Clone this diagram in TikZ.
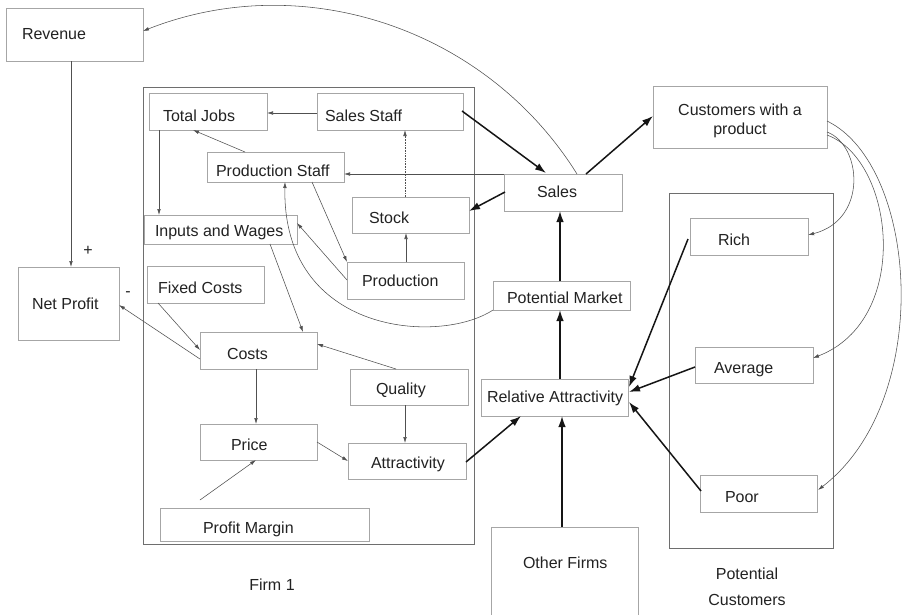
\documentclass[tikz,border=0pt]{standalone}
\usepackage{fontspec}
\setmainfont{Liberation Sans}
\usetikzlibrary{arrows.meta,calc}
\definecolor{boxc}{HTML}{A6A6A6}
\definecolor{contc}{HTML}{6E6E6E}
\definecolor{txtc}{HTML}{222222}
\definecolor{thinc}{HTML}{505050}
\definecolor{boldc}{HTML}{151515}
\newcommand\fsz{\fontsize{16pt}{19pt}\selectfont}
\newcommand\lbx[3]{\makebox[#2pt][l]{\hspace*{#1pt}#3}}
\begin{document}
\begin{tikzpicture}[x=1pt,y=-1pt,
 bxbase/.style={draw=boxc, line width=0.8pt, anchor=north west, inner sep=0pt, outer sep=0pt, font=\fsz, text=txtc},
 bx/.style={bxbase, text height=12pt, text depth=3.5pt},
 cont/.style={draw=contc, line width=0.9pt, anchor=north west, inner sep=0pt, outer sep=0pt},
 lbl/.style={font=\fsz, text=txtc, inner sep=0pt},
 thin/.style={draw=thinc, line width=0.55pt, -{Latex[length=6pt,width=3.6pt]}},
 bold/.style={draw=boldc, line width=1.5pt, -{Latex[length=11pt,width=7.5pt]}},
]
\useasboundingbox (0,0) rectangle (902,614);
\clip (0,0) rectangle (902,614);
\fill[white] (0,0) rectangle (902,614);

% containers
\node[cont, minimum width=331pt, minimum height=457pt] (firm) at (143,87) {};
\node[cont, minimum width=164pt, minimum height=355pt] (pc) at (669,193) {};

% boxes
\node[bx, minimum width=137pt, minimum height=53pt, text height=13pt] (rev) at (6,8) {\lbx{16}{137}{Revenue}};
\node[bx, minimum width=118pt, minimum height=37pt, text height=24pt] (tj) at (149,93) {\lbx{14}{118}{Total Jobs}};
\node[bx, minimum width=146pt, minimum height=37pt, text height=24pt] (ss) at (317,93) {\lbx{8}{146}{Sales Staff}};
\node[bx, minimum width=137pt, minimum height=30pt, text height=23pt] (ps) at (207,152) {\lbx{9}{137}{Production Staff}};
\node[bx, minimum width=117pt, minimum height=36pt, text height=21pt] (stock) at (352,197) {\lbx{17}{117}{Stock}};
\node[bx, minimum width=117pt, minimum height=37pt, text height=16pt] (prod) at (347,262) {\lbx{15}{117}{Production}};
\node[bx, minimum width=153pt, minimum height=29pt, text height=18pt] (iw) at (144,215) {\lbx{11}{153}{Inputs and Wages}};
\node[bx, minimum width=117pt, minimum height=37pt, text height=22pt] (fc) at (147,266) {\lbx{11}{117}{Fixed Costs}};
\node[bx, minimum width=101pt, minimum height=73pt, text height=15pt] (np) at (18,267) {\lbx{14}{101}{Net Profit}};
\node[bx, minimum width=117pt, minimum height=37pt, text height=22pt] (costs) at (200,332) {\lbx{27}{117}{Costs}};
\node[bx, minimum width=118pt, minimum height=36pt, text height=18pt] (qual) at (350,369) {\lbx{26}{118}{Quality}};
\node[bx, minimum width=117pt, minimum height=36pt, text height=21pt] (price) at (200,424) {\lbx{31}{117}{Price}};
\node[bx, minimum width=118pt, minimum height=36pt, text height=19pt] (attr) at (348,443) {\lbx{23}{118}{Attractivity}};
\node[bx, minimum width=209pt, minimum height=33pt, text height=21pt] (pm) at (160,508) {\lbx{43}{209}{Profit Margin}};
\node[bx, minimum width=118pt, minimum height=37pt, text height=14pt] (sales) at (504,174) {\lbx{33}{118}{Sales}};
\node[bx, minimum width=137pt, minimum height=29pt, text height=20pt] (pmkt) at (493,281) {\lbx{14}{137}{Potential Market}};
\node[bx, minimum width=147pt, minimum height=37pt, text height=14pt] (ra) at (481,379) {\lbx{6}{147}{Relative Attractivity}};
\node[bx, minimum width=147pt, minimum height=113pt, text depth=41.5pt] (of) at (491,527) {\lbx{32}{147}{Other Firms}};
\node[bxbase, minimum width=174pt, minimum height=62pt, align=center] (cust) at (653,86) {\rule{0pt}{20pt}Customers with a\\product};
\node[bx, minimum width=118pt, minimum height=37pt, text height=22pt] (rich) at (690,218) {\lbx{28}{118}{Rich}};
\node[bx, minimum width=118pt, minimum height=36pt, text height=21pt] (avg) at (695,347) {\lbx{19}{118}{Average}};
\node[bx, minimum width=117pt, minimum height=37pt, text height=22pt] (poor) at (700,475) {\lbx{25}{117}{Poor}};

% labels
\node[lbl] (firmlbl) at (272,585) {Firm 1};
\node[lbl, align=center] (pclbl) at (747,587) {Potential\\[7pt]Customers};
\node[lbl] (plus) at (88,251) {+};
\node[lbl] (minus) at (128,294) {-};

% thin connectors
\draw[thin] ($(sales.north west)+(73,0)$) .. controls (486,28) and (303,-32) .. ($(rev.north west)+(137,23)$);
\draw[thin] ($(ss.north west)+(0,20)$) -- ($(tj.north west)+(118,20)$);
\draw[thin] ($(ps.north west)+(38,0)$) -- ($(tj.north west)+(44,37)$);
\draw[thin] ($(tj.north west)+(10,37)$) -- ($(iw.north west)+(15,0)$);
\draw[thin, dash pattern=on 0.8pt off 0.8pt] ($(stock.north west)+(53,0)$) -- ($(ss.north west)+(88,37)$);
\draw[thin] (sales.north west) -- (sales.north west -| ps.east);
\draw[thin] ($(ps.north west)+(105,30)$) -- ($(prod.north west)+(0,0)$);
\draw[thin] ($(prod.north west)+(0,18)$) -- ($(iw.north west)+(153,8)$);
\draw[thin] ($(prod.north west)+(59,0)$) -- ($(stock.north west)+(54,36)$);
\draw[thin] (pmkt.south west) .. controls (440,345) and (282,335) .. ($(ps.north west)+(78,30)$);
\draw[thin] ($(iw.north west)+(126,29)$) -- ($(costs.north west)+(103,0)$);
\draw[thin] ($(fc.north west)+(11,37)$) -- ($(costs.north west)+(0,18)$);
\draw[thin] ($(costs.north west)+(0,27)$) -- ($(np.north west)+(101,38)$);
\draw[thin] ($(rev.north west)+(65,53)$) -- ($(np.north west)+(53,0)$);
\draw[thin] ($(qual.north west)+(46,0)$) -- ($(costs.north west)+(117,12)$);
\draw[thin] ($(costs.north west)+(56,37)$) -- ($(price.north west)+(56,0)$);
\draw[thin] ($(qual.north west)+(55,36)$) -- ($(attr.north west)+(57,0)$);
\draw[thin] ($(price.north west)+(117,18)$) -- ($(attr.north west)+(0,18)$);
\draw[thin] ($(pm.north west)+(40,-8)$) -- ($(price.north west)+(56,36)$);
\draw[thin] ($(cust.north west)+(174,46)$) .. controls (862,145) and (868,220) .. ($(rich.north west)+(118,17)$);
\draw[thin] ($(cust.north west)+(174,49)$) .. controls (895,160) and (912,320) .. ($(avg.north west)+(118,11)$);
\draw[thin] ($(cust.north west)+(174,35)$) .. controls (918,165) and (935,400) .. ($(poor.north west)+(118,15)$);

% bold connectors
\draw[bold] ($(ss.north west)+(145,18)$) -- ($(sales.north west)+(42,-1)$);
\draw[bold] ($(sales.north west)+(82,0)$) -- ($(cust.north west)+(0,30)$);
\draw[bold] ($(sales.north west)+(1,18)$) -- ($(stock.north west)+(117,14)$);
\draw[bold] ($(pmkt.north west)+(67,0)$) -- ($(sales.north west)+(56,37)$);
\draw[bold] ($(ra.north west)+(79,0)$) -- ($(pmkt.north west)+(67,29)$);
\draw[bold] ($(attr.north west)+(118,19)$) -- ($(ra.north west)+(40,37)$);
\draw[bold] ($(of.north west)+(71,0)$) -- ($(ra.north west)+(81,37)$);
\draw[bold] ($(rich.north west)+(-2,21)$) -- ($(ra.north west)+(148,8)$);
\draw[bold] ($(avg.north west)+(0,20)$) -- ($(ra.north west)+(148,13)$);
\draw[bold] ($(poor.north west)+(1,16)$) -- ($(ra.north west)+(148,23)$);
\end{tikzpicture}
\end{document}
